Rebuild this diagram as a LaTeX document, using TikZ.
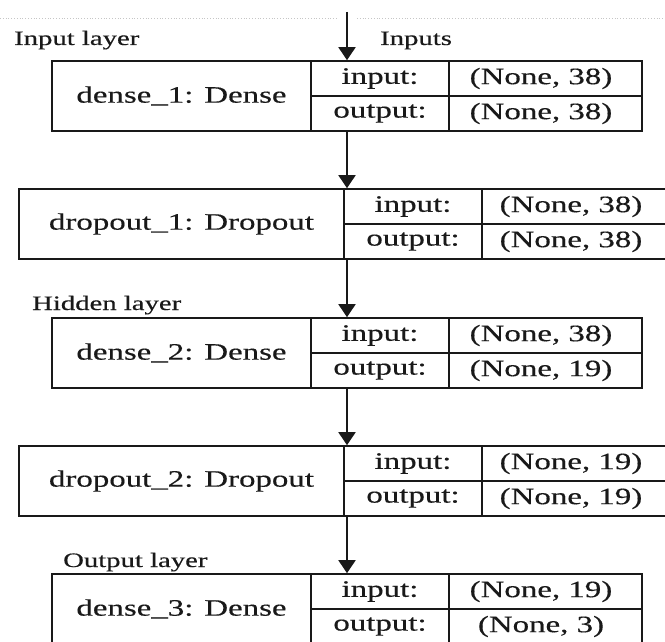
\documentclass[tikz,border=0pt]{standalone}
\usepackage{fontspec}
\setmainfont{Liberation Serif}[FakeStretch=1.4, FakeBold=0.4]
\usetikzlibrary{arrows.meta}
\newcommand\cellfont{\fontsize{23.5}{25}\selectfont}
\newcommand\tagfont{\fontsize{20.5}{22}\selectfont}
\begin{document}
\begin{tikzpicture}[x=1pt,y=-1pt,
  frame/.style={draw=black!90, line width=1.6pt},
  densebox/.style={frame, rectangle, minimum width=590pt, minimum height=70pt, inner sep=0pt},
  dropbox/.style={frame, rectangle, minimum width=656pt, minimum height=70pt, inner sep=0pt},
  txt/.style={font=\cellfont, inner sep=0pt, text=black!90},
  tag/.style={font=\tagfont, inner sep=0pt, anchor=base west, text=black!90},
  flow/.style={line width=1.8pt, draw=black!90, -{Triangle[width=17pt,length=13pt]}}]
\useasboundingbox (0,0) rectangle (665,642);
\clip (0,0) rectangle (665,642);

% faint dotted line at top
\coordinate (dl) at (0,18);
\coordinate (dm1) at (338,18);
\coordinate (dm2) at (357,18);
\coordinate (dr) at (665,18);
\draw[gray!45, dotted, line width=0.8pt] (dl) -- (dm1) (dm2) -- (dr);

% layers
\node[densebox] (L1) at (347,96) {};
\node[dropbox]  (L2) at (347,224) {};
\node[densebox] (L3) at (347,353) {};
\node[dropbox]  (L4) at (347,481) {};
\node[densebox] (L5) at (347,609) {};

% dense dividers
\foreach \L in {L1,L3,L5}{
  \draw[frame] ([xshift=-36pt]\L.north) -- ([xshift=-36pt]\L.south);
  \draw[frame] ([xshift=102pt]\L.north) -- ([xshift=102pt]\L.south);
  \draw[frame] ([xshift=-36pt]\L.center) -- (\L.east);
}
% dropout dividers
\foreach \L in {L2,L4}{
  \draw[frame] ([xshift=-3pt]\L.north) -- ([xshift=-3pt]\L.south);
  \draw[frame] ([xshift=135pt]\L.north) -- ([xshift=135pt]\L.south);
  \draw[frame] ([xshift=-3pt]\L.center) -- (\L.east);
}

% texts of dense_1
\node[txt] (n1) at ([xshift=-165.5pt]L1.center) {dense\_1: Dense};
\node[txt] (i1) at ([xshift=33pt,yshift=17.5pt]L1.center) {input:};
\node[txt] (o1) at ([xshift=33pt,yshift=-17.5pt]L1.center) {output:};
\node[txt] (iv1) at ([xshift=194pt,yshift=17.5pt]L1.center) {(None, 38)};
\node[txt] (ov1) at ([xshift=194pt,yshift=-17.5pt]L1.center) {(None, 38)};

% dropout_1
\node[txt] (n2) at ([xshift=-165.5pt]L2.center) {dropout\_1: Dropout};
\node[txt] (i2) at ([xshift=66pt,yshift=17.5pt]L2.center) {input:};
\node[txt] (o2) at ([xshift=66pt,yshift=-17.5pt]L2.center) {output:};
\node[txt] (iv2) at ([xshift=224pt,yshift=17.5pt]L2.center) {(None, 38)};
\node[txt] (ov2) at ([xshift=224pt,yshift=-17.5pt]L2.center) {(None, 38)};

% dense_2
\node[txt] (n3) at ([xshift=-165.5pt]L3.center) {dense\_2: Dense};
\node[txt] (i3) at ([xshift=33pt,yshift=17.5pt]L3.center) {input:};
\node[txt] (o3) at ([xshift=33pt,yshift=-17.5pt]L3.center) {output:};
\node[txt] (iv3) at ([xshift=194pt,yshift=17.5pt]L3.center) {(None, 38)};
\node[txt] (ov3) at ([xshift=194pt,yshift=-17.5pt]L3.center) {(None, 19)};

% dropout_2
\node[txt] (n4) at ([xshift=-165.5pt]L4.center) {dropout\_2: Dropout};
\node[txt] (i4) at ([xshift=66pt,yshift=17.5pt]L4.center) {input:};
\node[txt] (o4) at ([xshift=66pt,yshift=-17.5pt]L4.center) {output:};
\node[txt] (iv4) at ([xshift=224pt,yshift=17.5pt]L4.center) {(None, 19)};
\node[txt] (ov4) at ([xshift=224pt,yshift=-17.5pt]L4.center) {(None, 19)};

% dense_3
\node[txt] (n5) at ([xshift=-165.5pt]L5.center) {dense\_3: Dense};
\node[txt] (i5) at ([xshift=33pt,yshift=17.5pt]L5.center) {input:};
\node[txt] (o5) at ([xshift=33pt,yshift=-17.5pt]L5.center) {output:};
\node[txt] (iv5) at ([xshift=194pt,yshift=17.5pt]L5.center) {(None, 19)};
\node[txt] (ov5) at ([xshift=194pt,yshift=-17.5pt]L5.center) {(None, 3)};

% side labels
\node[tag] (tin) at (14,45) {Input layer};
\node[tag] (tinputs) at (380,45) {Inputs};
\node[tag] (thid) at (32,310) {Hidden layer};
\node[tag] (tout) at (63,567) {Output layer};

% connectors
\coordinate (start) at (347,12);
\draw[flow] (start) -- (L1.north);
\draw[flow] (L1.south) -- (L2.north);
\draw[flow] (L2.south) -- (L3.north);
\draw[flow] (L3.south) -- (L4.north);
\draw[flow] (L4.south) -- (L5.north);
\end{tikzpicture}
\end{document}
